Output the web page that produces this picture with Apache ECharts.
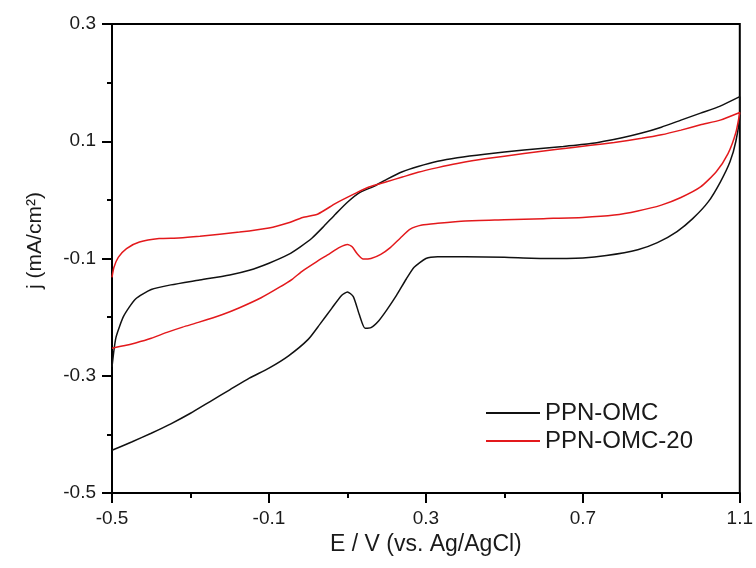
<!DOCTYPE html>
<html>
<head>
<meta charset="utf-8">
<script src="https://cdn.jsdelivr.net/npm/echarts@6/dist/echarts.min.js"></script>
<style>
  html, body { margin: 0; padding: 0; background: #fff; }
  #cvChart { width: 756px; height: 568px; }
</style>
</head>
<body>
<div id="cvChart"></div>
<script>
  // 数据 (E / V, j / mA cm^-2)
  const seriesNames = ['PPN-OMC', 'PPN-OMC-20']

  const ppnOmcForward = [
    [-0.5, -0.427], [-0.45, -0.413], [-0.40, -0.398], [-0.35, -0.382], [-0.30, -0.364],
    [-0.25, -0.344], [-0.20, -0.324], [-0.15, -0.304], [-0.10, -0.287], [-0.05, -0.266],
    [0.0, -0.238], [0.03, -0.212], [0.06, -0.185], [0.085, -0.163], [0.10, -0.157],
    [0.115, -0.165], [0.13, -0.195], [0.145, -0.219], [0.16, -0.218], [0.18, -0.206],
    [0.20, -0.188], [0.225, -0.163], [0.25, -0.135], [0.27, -0.115], [0.30, -0.100],
    [0.33, -0.097], [0.40, -0.097], [0.50, -0.098], [0.60, -0.100], [0.70, -0.099],
    [0.76, -0.095], [0.84, -0.085], [0.89, -0.073], [0.94, -0.054], [0.98, -0.032],
    [1.02, -0.003], [1.05, 0.030], [1.075, 0.065], [1.09, 0.100], [1.1, 0.147]
  ]
  const ppnOmcReverse = [
    [1.1, 0.176], [1.05, 0.160], [1.0, 0.148], [0.95, 0.136], [0.90, 0.124],
    [0.85, 0.114], [0.80, 0.106], [0.72, 0.096], [0.65, 0.091], [0.55, 0.085],
    [0.45, 0.078], [0.38, 0.072], [0.33, 0.066], [0.28, 0.057], [0.24, 0.048],
    [0.20, 0.035], [0.17, 0.024], [0.13, 0.012], [0.10, -0.004], [0.07, -0.024],
    [0.04, -0.045], [0.01, -0.065], [-0.02, -0.080], [-0.05, -0.093], [-0.10, -0.108],
    [-0.15, -0.120], [-0.20, -0.128], [-0.28, -0.137], [-0.35, -0.145], [-0.40, -0.153],
    [-0.44, -0.169], [-0.47, -0.198], [-0.49, -0.235], [-0.5, -0.285]
  ]
  const ppnOmc20Forward = [
    [-0.5, -0.253], [-0.47, -0.249], [-0.44, -0.244], [-0.40, -0.236], [-0.36, -0.226],
    [-0.32, -0.217], [-0.28, -0.209], [-0.22, -0.196], [-0.175, -0.184], [-0.12, -0.167],
    [-0.073, -0.149], [-0.04, -0.135], [-0.014, -0.121], [0.02, -0.106], [0.054, -0.092],
    [0.08, -0.081], [0.10, -0.076], [0.112, -0.080], [0.125, -0.092], [0.14, -0.101],
    [0.16, -0.100], [0.185, -0.093], [0.21, -0.081], [0.235, -0.065], [0.26, -0.050],
    [0.29, -0.043], [0.33, -0.040], [0.40, -0.036], [0.50, -0.034], [0.60, -0.032],
    [0.70, -0.030], [0.78, -0.026], [0.84, -0.019], [0.90, -0.009], [0.95, 0.004],
    [1.0, 0.022], [1.04, 0.048], [1.07, 0.079], [1.09, 0.115], [1.1, 0.149]
  ]
  const ppnOmc20Reverse = [
    [1.1, 0.149], [1.05, 0.136], [1.0, 0.128], [0.95, 0.119], [0.90, 0.111],
    [0.85, 0.105], [0.78, 0.098], [0.72, 0.093], [0.63, 0.086], [0.55, 0.079],
    [0.45, 0.070], [0.38, 0.062], [0.33, 0.055], [0.28, 0.047], [0.24, 0.039],
    [0.20, 0.031], [0.155, 0.022], [0.12, 0.011], [0.07, -0.006], [0.025, -0.024],
    [-0.014, -0.030], [-0.05, -0.039], [-0.10, -0.048], [-0.175, -0.055], [-0.276, -0.062],
    [-0.33, -0.065], [-0.38, -0.066], [-0.43, -0.072], [-0.463, -0.083], [-0.484, -0.098],
    [-0.495, -0.115], [-0.5, -0.132]
  ]

  const xMajorTicks = [-0.5, -0.1, 0.3, 0.7, 1.1]
  const xMinorTicks = [-0.3, 0.1, 0.5, 0.9]
  const yMajorTicks = [-0.5, -0.3, -0.1, 0.1, 0.3]
  const yMinorTicks = [-0.4, -0.2, 0.0, 0.2]

  const fontFamily = 'Arial, "Liberation Sans", sans-serif'

  let chart = echarts.init(document.getElementById('cvChart'))

  // 主刻度轴 (带标签)
  function majorAxis(min, max, ticks, extra) {
    return Object.assign({
      type: 'value',
      min: min,
      max: max,
      splitLine: { show: false },
      axisLine: { show: true, onZero: false, lineStyle: { color: '#000', width: 2 } },
      axisTick: { show: true, inside: false, length: 10, customValues: ticks, lineStyle: { color: '#000', width: 2 } },
      axisLabel: { customValues: ticks, color: '#1a1a1a', fontSize: 19, fontFamily: fontFamily, margin: 16 }
    }, extra)
  }
  // 次刻度轴 (只画短刻度)
  function minorAxis(min, max, ticks, extra) {
    return Object.assign({
      type: 'value',
      min: min,
      max: max,
      splitLine: { show: false },
      axisLine: { show: false, onZero: false },
      axisTick: { show: true, inside: false, length: 5, customValues: ticks, lineStyle: { color: '#000', width: 2 } },
      axisLabel: { show: false }
    }, extra)
  }

  chart.setOption({
    animation: false,
    backgroundColor: '#fff',
    grid: {
      left: 112,
      right: 13,
      top: 24,
      bottom: 75,
      show: true,
      borderColor: '#000',
      borderWidth: 2
    },
    legend: {
      orient: 'vertical',
      left: 481,
      top: 396,
      icon: 'rect',
      itemWidth: 54,
      itemHeight: 2,
      itemGap: 4,
      data: seriesNames,
      textStyle: { color: '#1a1a1a', fontSize: 24, fontFamily: fontFamily }
    },
    xAxis: [
      majorAxis(-0.5, 1.1, xMajorTicks, {
        position: 'bottom',
        name: 'E / V (vs. Ag/AgCl)',
        nameLocation: 'middle',
        nameGap: 38,
        nameTextStyle: { color: '#1a1a1a', fontSize: 23, fontFamily: fontFamily }
      }),
      minorAxis(-0.5, 1.1, xMinorTicks, { position: 'bottom' })
    ],
    yAxis: [
      majorAxis(-0.5, 0.3, yMajorTicks, {
        position: 'left',
        name: 'j (mA/cm²)',
        nameLocation: 'middle',
        nameGap: 66,
        nameTextStyle: { color: '#1a1a1a', fontSize: 21, fontFamily: fontFamily, padding: [0, 0, 0, 36] }
      }),
      minorAxis(-0.5, 0.3, yMinorTicks, { position: 'left' })
    ],
    series: [{
      name: seriesNames[0],
      type: 'line',
      xAxisIndex: 0,
      yAxisIndex: 0,
      data: ppnOmcForward.concat(ppnOmcReverse),
      smooth: 0.2,
      symbol: 'none',
      lineStyle: { color: '#111', width: 1.5 },
      itemStyle: { color: '#111' }
    }, {
      name: seriesNames[1],
      type: 'line',
      xAxisIndex: 0,
      yAxisIndex: 0,
      data: ppnOmc20Forward.concat(ppnOmc20Reverse),
      smooth: 0.2,
      symbol: 'none',
      lineStyle: { color: '#e3191c', width: 1.5 },
      itemStyle: { color: '#e3191c' }
    }]
  })
</script>
</body>
</html>
